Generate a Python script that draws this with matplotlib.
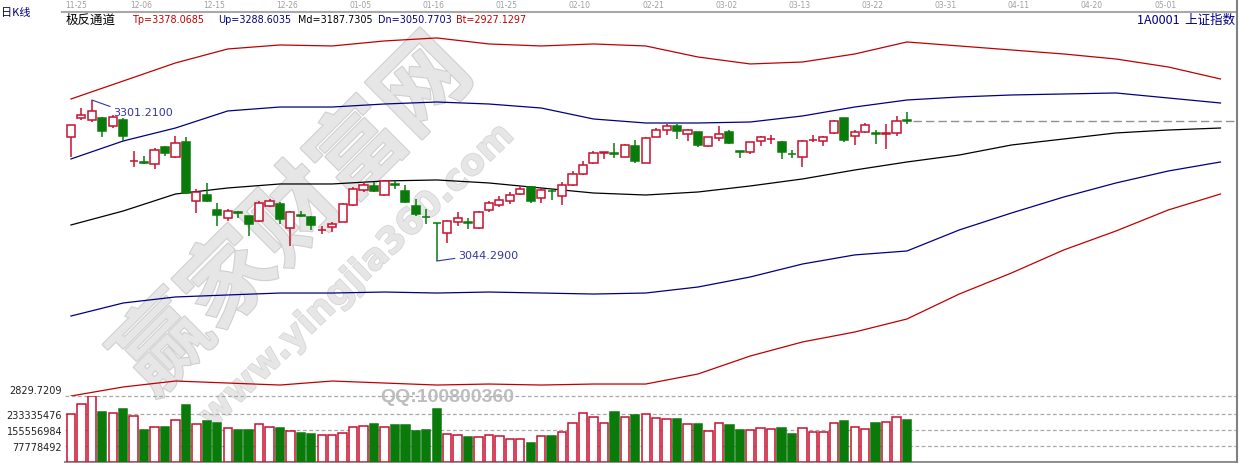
import matplotlib
matplotlib.use("Agg")
import matplotlib.pyplot as plt
import matplotlib.patheffects as pe
from matplotlib.lines import Line2D
from matplotlib.transforms import blended_transform_factory
import numpy as np

# ---- daily candles (index 0 = 11-25) ----
open_ = [3242.6, 3272.0, 3269.8, 3272.5, 3259.3, 3269.8, 3203.5, 3201.5, 3199.1, 3225.7,
         3210.7, 3233.7, 3139.6, 3150.1, 3125.7, 3112.9, 3122.3, 3115.6, 3107.6, 3132.5,
         3135.3, 3096.5, 3117.5, 3114.0, 3093.4, 3098.1, 3107.0, 3134.1, 3158.1, 3164.5,
         3149.6, 3167.0, 3156.5, 3132.5, 3115.0, 3105.5, 3089.0, 3106.0, 3106.0, 3096.5,
         3125.7, 3134.1, 3139.6, 3151.2, 3161.9, 3144.4, 3156.5, 3148.5, 3166.1, 3183.1,
         3200.2, 3217.0, 3216.0, 3210.7, 3227.3, 3200.7, 3242.6, 3253.8, 3259.2, 3246.9,
         3249.7, 3227.3, 3240.6, 3249.7, 3219.2, 3217.8, 3235.3, 3238.2, 3233.7, 3215.8,
         3209.8, 3236.6, 3236.3, 3248.6, 3272.0, 3243.3, 3250.6, 3248.0, 3247.3, 3248.6,
         3269.0]
close = [3261.8, 3277.3, 3283.2, 3251.3, 3273.6, 3244.3, 3204.4, 3200.7, 3221.9, 3216.2,
         3232.1, 3152.8, 3153.9, 3140.5, 3118.2, 3123.6, 3121.4, 3103.3, 3136.4, 3140.5,
         3111.3, 3122.0, 3116.6, 3102.2, 3094.2, 3103.3, 3135.3, 3159.2, 3165.6, 3155.5,
         3172.4, 3166.1, 3138.0, 3119.3, 3114.0, 3104.9, 3107.6, 3112.4, 3104.9, 3122.0,
         3136.4, 3142.1, 3149.6, 3159.2, 3140.5, 3157.6, 3155.5, 3166.1, 3183.1, 3198.0,
         3216.2, 3217.8, 3215.0, 3229.4, 3203.4, 3240.6, 3253.3, 3260.2, 3252.2, 3253.3,
         3229.4, 3241.7, 3246.9, 3232.1, 3218.7, 3233.7, 3241.7, 3239.0, 3217.8, 3215.0,
         3236.3, 3237.4, 3241.7, 3268.2, 3237.9, 3250.6, 3261.3, 3246.9, 3248.1, 3268.2,
         3268.2]
high = [3261.8, 3288.0, 3301.21, 3274.6, 3277.3, 3272.5, 3219.4, 3212.3, 3224.6, 3227.8,
        3244.2, 3242.6, 3159.2, 3168.3, 3136.4, 3127.3, 3124.6, 3116.6, 3139.6, 3143.2,
        3138.0, 3124.6, 3124.6, 3116.6, 3100.6, 3107.0, 3136.9, 3161.9, 3169.9, 3169.9,
        3173.6, 3172.4, 3165.6, 3143.2, 3127.3, 3105.5, 3109.7, 3122.9, 3112.4, 3124.6,
        3139.6, 3148.5, 3153.9, 3164.5, 3164.0, 3160.8, 3159.2, 3169.9, 3188.4, 3204.4,
        3220.3, 3217.8, 3232.1, 3231.0, 3237.4, 3241.4, 3256.1, 3262.9, 3262.9, 3254.9,
        3250.6, 3242.2, 3260.2, 3253.8, 3219.2, 3234.7, 3243.3, 3245.4, 3235.3, 3221.9,
        3237.9, 3245.4, 3244.2, 3268.5, 3272.0, 3253.3, 3264.5, 3253.8, 3262.9, 3275.2,
        3281.6]
low = [3209.8, 3269.8, 3265.6, 3241.7, 3256.5, 3236.3, 3194.8, 3199.1, 3191.1, 3212.3,
       3208.7, 3151.2, 3120.4, 3138.0, 3100.6, 3107.6, 3112.9, 3084.7, 3106.0, 3130.0,
       3103.3, 3068.7, 3114.0, 3094.2, 3087.4, 3091.1, 3106.0, 3132.5, 3154.9, 3153.9,
       3148.5, 3159.2, 3136.9, 3116.6, 3103.3, 3044.29, 3073.0, 3099.7, 3095.4, 3095.4,
       3122.0, 3130.0, 3135.3, 3150.1, 3136.4, 3136.4, 3141.6, 3134.1, 3164.5, 3182.0,
       3199.1, 3207.1, 3208.7, 3209.8, 3200.2, 3200.2, 3241.7, 3245.8, 3238.9, 3235.3,
       3225.7, 3226.7, 3236.3, 3230.5, 3208.2, 3215.0, 3228.3, 3231.0, 3207.1, 3208.2,
       3193.8, 3233.7, 3228.3, 3247.0, 3233.7, 3229.4, 3248.6, 3231.0, 3223.2, 3244.2,
       3262.9]
# volume, millions
volume = [233.2, 282.1, 319.6, 244.6, 238.1, 257.6, 221.8, 154.9, 168.0, 168.0,
          203.8, 277.2, 184.3, 200.6, 189.1, 163.1, 154.9, 154.9, 182.6, 168.0,
          164.7, 150.0, 140.2, 135.3, 130.4, 130.4, 138.6, 168.0, 172.8, 184.3,
          168.0, 179.4, 179.4, 151.6, 154.9, 257.6, 135.3, 130.4, 122.3, 119.0,
          130.4, 123.9, 110.9, 110.9, 91.3, 123.9, 127.2, 146.8, 189.1, 238.1,
          216.9, 189.1, 244.6, 216.9, 228.3, 233.2, 212.0, 208.7, 208.7, 184.3,
          184.3, 150.0, 187.5, 179.4, 154.9, 154.9, 163.1, 159.8, 164.7, 135.3,
          163.1, 146.8, 146.8, 187.5, 197.3, 168.0, 159.8, 189.1, 192.4, 216.9,
          203.8]

# ---- channel lines, sampled every 5 bars (extend into the future) ----
band_idx = list(range(0, 111, 5))
tp = [3302.8, 3331.5, 3360.3, 3382.6, 3389.0, 3387.4, 3395.4, 3400.2, 3390.6, 3387.4, 3390.6, 3387.4,
      3369.8, 3358.7, 3361.8, 3374.6, 3393.8, 3387.4, 3381.0, 3374.6, 3366.6, 3353.9, 3334.7]
up = [3207.1, 3235.8, 3256.5, 3283.7, 3290.0, 3290.0, 3294.8, 3298.0, 3294.8, 3288.4, 3270.9, 3264.5,
      3264.5, 3266.1, 3275.7, 3290.0, 3301.2, 3306.0, 3309.2, 3310.8, 3312.4, 3304.4, 3296.4]
md = [3101.8, 3124.1, 3151.2, 3160.8, 3167.2, 3167.2, 3172.0, 3173.6, 3168.8, 3160.8, 3152.8, 3149.6,
      3154.4, 3164.0, 3175.2, 3189.5, 3202.3, 3213.4, 3229.4, 3239.0, 3248.6, 3253.3, 3256.5]
dn = [2956.5, 2977.3, 2986.9, 2990.1, 2993.2, 2993.2, 2994.8, 2993.2, 2994.8, 2993.2, 2991.6, 2993.2,
      3002.8, 3018.8, 3039.5, 3054.0, 3060.3, 3093.8, 3120.9, 3146.4, 3168.8, 3187.9, 3202.3]
bt = [2828.9, 2843.3, 2852.8, 2849.6, 2846.4, 2852.8, 2849.6, 2846.4, 2848.0, 2846.4, 2848.0, 2848.0,
      2864.0, 2892.7, 2915.1, 2931.0, 2951.8, 2991.6, 3025.2, 3061.9, 3092.2, 3125.7, 3151.2]

date_labels = ["11-25", "12-06", "12-15", "12-26", "01-05", "01-16", "01-25", "02-10",
               "02-21", "03-02", "03-13", "03-22", "03-31", "04-11", "04-20", "05-01"]
vol_ticks = [77778492, 155556984, 233335476]
price_floor = 2829.7209

RED = "#C8102E"
GREEN = "#0A7A0A"
NAVY = "#000080"
BAND_RED = "#C00000"
GRID = "#A8A8A8"
CJK = ["Noto Sans CJK SC", "DejaVu Sans"]

W, H = 1239, 464
fig = plt.figure(figsize=(W / 100, H / 100), dpi=100)


def px_axes(x0, y0, x1, y1):
    return fig.add_axes([x0 / W, 1 - y1 / H, (x1 - x0) / W, (y1 - y0) / H])


ax = px_axes(65, 13, 1237, 397)
axv = px_axes(65, 397, 1237, 463)
xlim = (-0.57, 111.58)
for a in (ax, axv):
    a.set_xlim(*xlim)
    a.set_xticks([])
    a.patch.set_alpha(0)
    for s in ("left", "top", "bottom", "right"):
        a.spines[s].set_visible(False)
axv.spines["bottom"].set_visible(True)
axv.spines["bottom"].set_color("#909090")
axv.spines["bottom"].set_linewidth(1.5)

ax.set_ylim(2828.9, 3441.6)
axv.set_ylim(-1.5e6, 321.4e6)

# ---- watermark (behind the chart) ----
fig.text(295 / W, 1 - 218 / H, "赢家财富网", rotation=45, fontsize=66, fontweight="bold",
         family=CJK, color="#E6E6E6", ha="center", va="center", zorder=-2,
         path_effects=[pe.withStroke(linewidth=1.6, foreground="#D0D0D0")])
fig.text(357 / W, 1 - 277 / H, "www.yingjia360.com", rotation=44, fontsize=26, fontweight="bold",
         color="#E6E6E6", ha="center", va="center", zorder=-2,
         path_effects=[pe.withStroke(linewidth=1.2, foreground="#D6D6D6")])

# ---- channel lines ----
ax.plot(band_idx, tp, color=BAND_RED, lw=0.9, zorder=2)
ax.plot(band_idx, up, color=NAVY, lw=0.9, zorder=2)
ax.plot(band_idx, md, color="black", lw=0.9, zorder=2)
ax.plot(band_idx, dn, color=NAVY, lw=0.9, zorder=2)
ax.plot(band_idx, bt, color=BAND_RED, lw=0.9, zorder=2)

# ---- candles ----
o = np.array(open_)
c = np.array(close)
idx = np.arange(len(c))
rise = c >= o
edge = np.where(rise, RED, GREEN)
face = np.where(rise, "white", GREEN)
ax.vlines(idx, low, high, colors=edge, lw=1.1, zorder=3)
ax.bar(idx, np.abs(c - o), bottom=np.minimum(o, c), width=0.78, color=face,
       edgecolor=edge, linewidth=1.1, zorder=4)

# last close reference line
ax.hlines(c[-1], idx[-1] + 0.6, xlim[1], colors="#909090", lw=1.0,
          linestyles=(0, (6, 3)), zorder=2)

# high / low markers
i_hi = int(np.argmax(high))
i_lo = int(np.argmin(low))
ax.annotate(f"{high[i_hi]:.4f}", xy=(i_hi, high[i_hi]), xytext=(21, -12),
            textcoords="offset pixels", ha="left", va="center", fontsize=8,
            color="#3535A8", zorder=5,
            arrowprops=dict(arrowstyle="-", color="#3535A8", lw=0.8,
                            relpos=(0, 0.95), shrinkA=0, shrinkB=0))
ax.annotate(f"{low[i_lo]:.4f}", xy=(i_lo, low[i_lo]), xytext=(21, 6),
            textcoords="offset pixels", ha="left", va="center", fontsize=8,
            color="#3535A8", zorder=5,
            arrowprops=dict(arrowstyle="-", color="#3535A8", lw=0.8,
                            relpos=(0, 0.2), shrinkA=0, shrinkB=0))

# ---- volume ----
vol = np.array(volume) * 1e6
axv.bar(idx, vol, width=0.8, color=face, edgecolor=edge, linewidth=1.1, zorder=3)
for v in vol_ticks:
    axv.axhline(v, color=GRID, lw=0.9, ls=(0, (3, 2)), zorder=1)
axv.axhline(axv.get_ylim()[1], color=GRID, lw=0.9, ls=(0, (3, 2)), zorder=1, clip_on=False)
axv.set_yticks(vol_ticks)
axv.set_yticklabels([str(v) for v in vol_ticks])
axv.tick_params(axis="y", length=0, pad=2, labelsize=7, labelcolor="#202020")
ax.set_yticks([])
ax.text(-0.003, price_floor, f"{price_floor:.4f}", transform=blended_transform_factory(ax.transAxes, ax.transData),
        ha="right", va="bottom", fontsize=7, color="#202020")
fig.text(380 / W, 1 - 397 / H, "QQ:100800360", fontsize=14, fontweight="bold",
         family="Liberation Sans", color="#BDBDBD", ha="left", va="center", zorder=6)

# ---- frame lines, top date axis and header ----
fig.add_artist(Line2D([62 / W, 1237 / W], [1 - 13 / H, 1 - 13 / H], color="#A8A8A8", lw=1.5))
fig.add_artist(Line2D([1237 / W, 1237 / W], [0, 1], color="#808080", lw=1.5))
tr = blended_transform_factory(ax.transData, fig.transFigure)
for k, lab in enumerate(date_labels):
    xpos = 0.5 if k == 0 else 7 * k - 0.3
    fig.text(xpos, 1 - 6 / H, lab, transform=tr, ha="center", va="center",
             fontsize=5.5, color="#A0A0A0")

fig.text(1 / W, 1 - 13 / H, "日K线", fontsize=8, family=CJK, color=NAVY, va="center", ha="left")
fig.text(66 / W, 1 - 20 / H, "极反通道", fontsize=9, family=CJK, color="black", va="center", ha="left")
header = [("Tp=3378.0685", 133, BAND_RED), ("Up=3288.6035", 218, NAVY),
          ("Md=3187.7305", 298, "black"), ("Dn=3050.7703", 378, NAVY),
          ("Bt=2927.1297", 456, BAND_RED)]
for txt, xp, col in header:
    fig.text(xp / W, 1 - 20 / H, txt, fontsize=6.9, color=col, va="center", ha="left")
fig.text(1235 / W, 1 - 20 / H, "1A0001  上证指数", fontsize=9, family=CJK, color=NAVY,
         va="center", ha="right")

fig.savefig("out.png", dpi=100)
